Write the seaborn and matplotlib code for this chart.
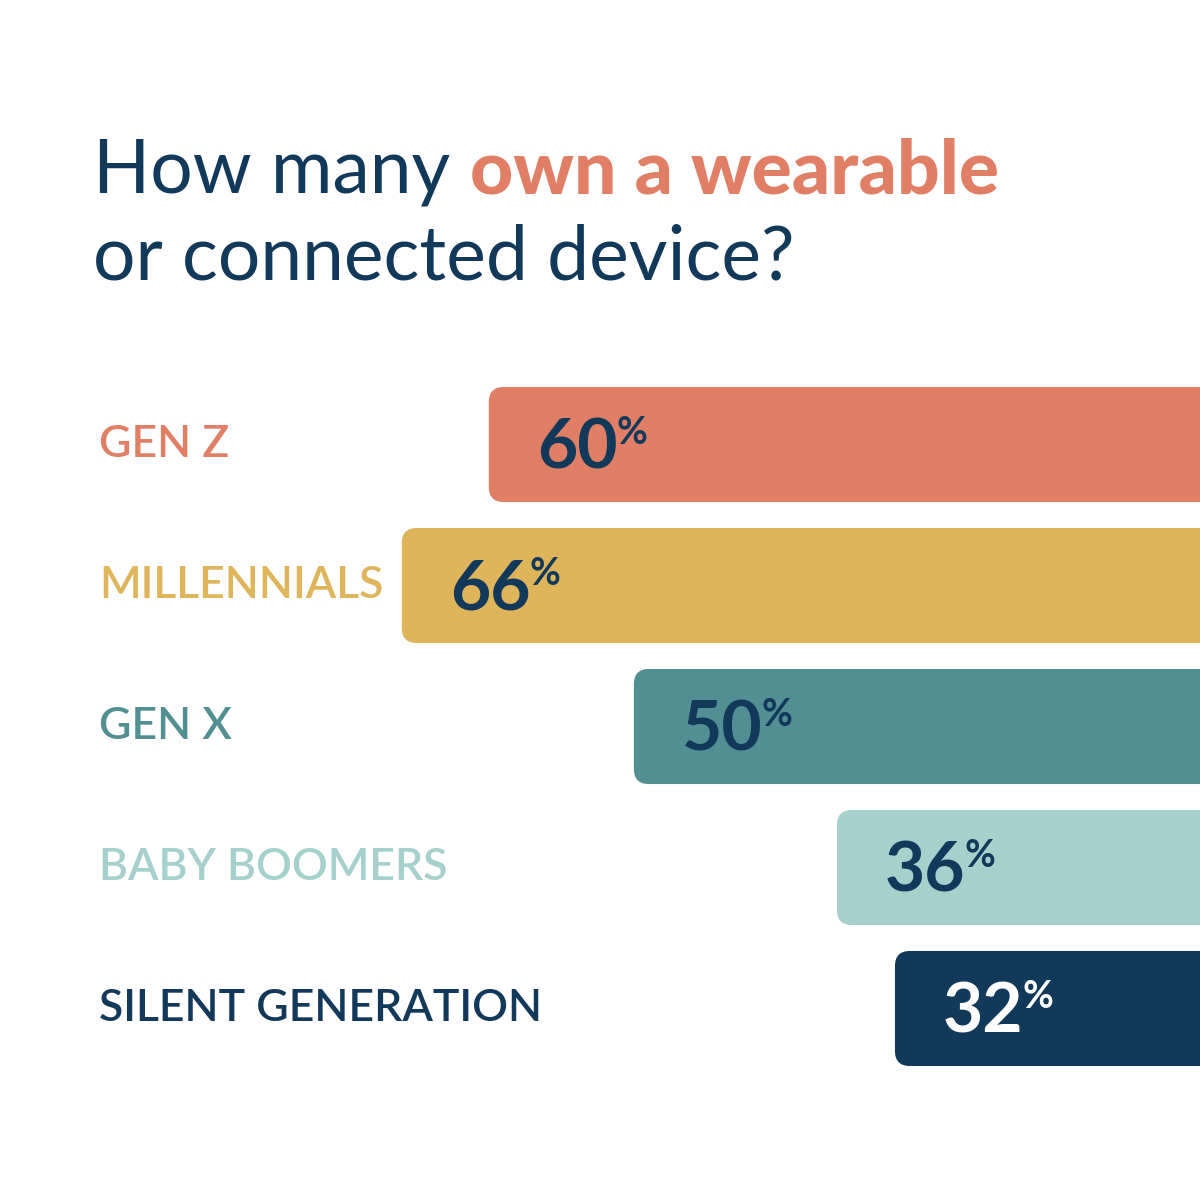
import matplotlib
matplotlib.use("Agg")
import matplotlib.pyplot as plt
import seaborn as sns
from matplotlib.patches import FancyBboxPatch
from matplotlib.transforms import IdentityTransform

# data
generations = ["GEN Z", "MILLENNIALS", "GEN X", "BABY BOOMERS", "SILENT GENERATION"]
owners_pct = [60, 66, 50, 36, 32]
bar_colors = ["#E07F66", "#DFB55B", "#528F92", "#A5D0CC", "#12385A"]
value_colors = ["#12385A", "#12385A", "#12385A", "#12385A", "#FFFFFF"]

NAVY = "#12385A"
FONT = "Lato"

sns.set_style("white")
plt.rcParams["font.family"] = [FONT, "DejaVu Sans"]

fig = plt.figure(figsize=(12, 12), dpi=100)
fig.patch.set_facecolor("white")
# axes: full width, from 300px to 1100px from the top
ax = fig.add_axes([0, 100 / 1200, 1, 800 / 1200])

sns.barplot(x=owners_pct, y=generations, hue=generations, palette=bar_colors,
            orient="h", width=0.816, saturation=1, legend=False, ax=ax)

# zero sits off-canvas to the right; scale ~14.5 px per point
ax.set_xlim(93.7, 10.97)
ax.set_ylim(4.649, -1.025)
ax.axis("off")

# swap the plain bars for ones with rounded left corners
px_x = 1200 / (93.7 - 10.97)
px_y = 800 / (4.649 + 1.025)
aspect = px_x / px_y
radius = 15 / px_x
for p in list(ax.patches):
    x0, y0, w, h = p.get_x(), p.get_y(), p.get_width(), p.get_height()
    fc = p.get_facecolor()
    p.remove()
    ax.add_patch(FancyBboxPatch((x0 - 5, y0), w + 5, h,
                                boxstyle=f"round,pad=0,rounding_size={radius}",
                                mutation_aspect=aspect, fc=fc, ec="none"))

fig.canvas.draw()
renderer = fig.canvas.get_renderer()
H = 1200

# title
t1 = fig.text(93, H - 193, "How many", fontsize=54, color=NAVY,
              transform=IdentityTransform(), va="baseline", ha="left")
bb = t1.get_window_extent(renderer)
fig.text(bb.x1 + 20, H - 193, "own a wearable", fontsize=54, color="#E07F66",
         fontweight="black", transform=IdentityTransform(), va="baseline", ha="left")
fig.text(93, H - 280, "or connected device?", fontsize=54, color=NAVY,
         transform=IdentityTransform(), va="baseline", ha="left")

# category labels and values
NUM_SIZE = 50
digit_h = NUM_SIZE * 100 / 72 * 0.7165
for i, (name, v) in enumerate(zip(generations, owners_pct)):
    yc = ax.transData.transform((v, i))[1]
    fig.text(99, yc, name, fontsize=32, color=bar_colors[i], fontweight="semibold",
             transform=IdentityTransform(), va="center", ha="left")
    xl = ax.transData.transform((v, i))[0]
    base = yc - 24
    num = fig.text(xl + 48, base, str(v), fontsize=NUM_SIZE, fontweight="bold",
                   color=value_colors[i], transform=IdentityTransform(),
                   va="baseline", ha="left")
    nb = num.get_window_extent(renderer)
    fig.text(nb.x1 - 1, base + digit_h + 3, "%", fontsize=27,
             fontweight="bold", color=value_colors[i], transform=IdentityTransform(),
             va="top", ha="left")

fig.savefig("out.png", dpi=100, facecolor="white")
